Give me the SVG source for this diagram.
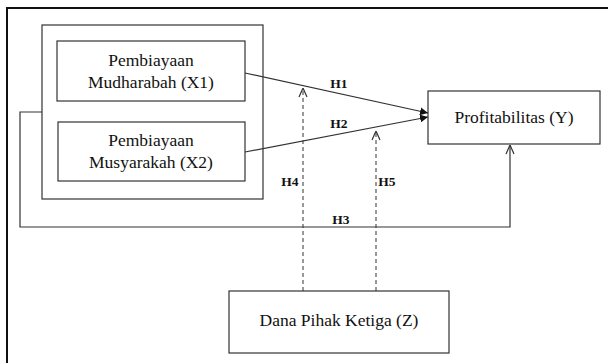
<svg xmlns="http://www.w3.org/2000/svg" width="608" height="363" viewBox="0 0 608 363">
<style>
.box{fill:#fff;stroke:#333;stroke-width:1.2}
.t{font-family:'Liberation Serif','Times New Roman','DejaVu Serif',serif;font-size:17.5px;fill:#111;text-anchor:middle}
.h{font-family:'Liberation Serif','Times New Roman','DejaVu Serif',serif;font-size:13.5px;font-weight:bold;fill:#111;text-anchor:middle}
.ln{fill:none;stroke:#333;stroke-width:1.2}
.dash{fill:none;stroke:#333;stroke-width:1;stroke-dasharray:4 3}
</style>
<defs>
<marker id="fill" viewBox="0 0 10 10" refX="10" refY="5" markerWidth="8" markerHeight="8" markerUnits="userSpaceOnUse" orient="auto">
<path d="M0,0 L10,5 L0,10 z" fill="#111"/>
</marker>
<marker id="open" viewBox="0 0 10 10" refX="10" refY="5" markerWidth="10" markerHeight="10" markerUnits="userSpaceOnUse" orient="auto">
<path d="M1,1 L10,5 L1,9" fill="none" stroke="#333" stroke-width="1.2"/>
</marker>
</defs>
<rect width="608" height="363" fill="#fff"/>
<path d="M7,363 V8 H608" fill="none" stroke="#111" stroke-width="2"/>
<g id="group">
<rect class="box" x="42" y="25" width="221" height="174"/>
</g>
<g id="X1">
<rect class="box" x="57" y="41" width="188" height="60"/>
<text class="t" x="151" y="66">Pembiayaan</text>
<text class="t" x="151" y="88">Mudharabah (X1)</text>
</g>
<g id="X2">
<rect class="box" x="58" y="122" width="187" height="59"/>
<text class="t" x="151" y="146">Pembiayaan</text>
<text class="t" x="151" y="168">Musyarakah (X2)</text>
</g>
<g id="Y">
<rect class="box" x="428" y="91" width="172" height="53"/>
<text class="t" x="514" y="123">Profitabilitas (Y)</text>
</g>
<g id="Z">
<rect class="box" x="229" y="291" width="220" height="62"/>
<text class="t" x="339" y="326">Dana Pihak Ketiga (Z)</text>
</g>
<g id="connectors">
<line class="ln" x1="245" y1="73" x2="428" y2="113" marker-end="url(#fill)"/>
<line class="ln" x1="245" y1="152" x2="428" y2="117" marker-end="url(#fill)"/>
<path class="ln" d="M42,112 H20 V227 H510 V145" marker-end="url(#open)"/>
<line class="dash" x1="303" y1="291" x2="303" y2="88" marker-end="url(#open)"/>
<line class="dash" x1="376" y1="291" x2="376" y2="131" marker-end="url(#open)"/>
<text class="h" x="339" y="88">H1</text>
<text class="h" x="339" y="128">H2</text>
<text class="h" x="341" y="224">H3</text>
<text class="h" x="290" y="186">H4</text>
<text class="h" x="387" y="186">H5</text>
</g>
</svg>
